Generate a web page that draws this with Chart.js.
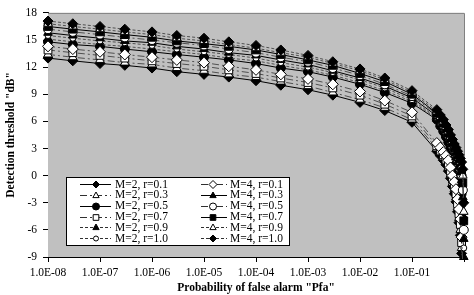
<!DOCTYPE html>
<html>
<head>
<meta charset="utf-8">
<script src="https://cdn.jsdelivr.net/npm/chart.js@4"></script>
<style>
html, body { margin: 0; background: #fff; }
#wrap { width: 474px; height: 295px; }
</style>
</head>
<body>
<div id="wrap"><canvas id="chart" width="474" height="295"></canvas></div>
<script>
// probability of false alarm (x)
const pfa = [1e-8, 3e-8, 1e-7, 3e-7, 1e-6, 3e-6, 1e-5, 3e-5, 1e-4, 3e-4, 1e-3, 3e-3, 1e-2, 3e-2, 1e-1,
    0.30, 0.35, 0.40, 0.45, 0.50, 0.55, 0.60, 0.65, 0.70, 0.75, 0.80, 0.85, 0.90, 0.95, 0.99];

// detection threshold in dB
const m2r01 = [13.0, 12.7, 12.4, 12.2, 11.9, 11.5, 11.2, 10.9, 10.5, 10.0, 9.5, 8.9, 8.1, 7.2, 5.9,
    2.7, 2.2, 1.7, 1.2, 0.5, -0.3, -1.2, -2.0, -2.9, -4.0, -5.2, -6.6, -8.6, -13, -18];
const m2r03 = [13.4, 13.1, 12.8, 12.5, 12.3, 11.9, 11.6, 11.2, 10.9, 10.4, 9.9, 9.2, 8.4, 7.5, 6.2,
    3.0, 2.5, 2.0, 1.5, 0.9, 0.1, -0.8, -1.5, -2.4, -3.5, -4.7, -6.0, -8.0, -12, -17];
const m2r05 = [14.8, 14.5, 14.3, 14.0, 13.7, 13.4, 13.1, 12.8, 12.4, 11.9, 11.5, 10.9, 10.1, 9.2, 8.0,
    6.2, 5.5, 4.9, 4.3, 3.7, 3.1, 2.5, 1.9, 1.3, 0.6, 0.0, -0.9, -2.0, -4.8, -10];
const m2r07 = [13.9, 13.6, 13.3, 13.0, 12.7, 12.4, 12.1, 11.7, 11.3, 10.8, 10.3, 9.7, 8.9, 7.9, 6.6,
    3.3, 2.8, 2.3, 1.8, 1.3, 0.5, -0.4, -1.1, -2.0, -3.1, -4.2, -5.4, -7.4, -11, -16];
const m2r09 = [15.1, 14.8, 14.5, 14.3, 14.0, 13.7, 13.4, 13.0, 12.7, 12.2, 11.7, 11.1, 10.3, 9.4, 8.2,
    6.3, 5.7, 5.1, 4.5, 3.9, 3.3, 2.7, 2.1, 1.5, 0.9, 0.3, -0.5, -1.5, -4.0, -9.0];
const m2r10 = [15.5, 15.2, 14.9, 14.7, 14.4, 14.0, 13.7, 13.4, 13.0, 12.5, 12.0, 11.4, 10.6, 9.7, 8.4,
    6.4, 5.8, 5.2, 4.6, 4.1, 3.5, 2.9, 2.3, 1.7, 1.2, 0.6, -0.1, -1.0, -3.2, -8.0];
const m4r01 = [14.3, 14.0, 13.7, 13.4, 13.1, 12.8, 12.5, 12.1, 11.7, 11.2, 10.7, 10.1, 9.3, 8.3, 7.0,
    3.6, 3.1, 2.6, 2.2, 1.7, 0.9, 0.0, -0.7, -1.5, -2.6, -3.7, -4.8, -6.8, -10, -15];
const m4r03 = [15.8, 15.5, 15.2, 14.9, 14.7, 14.3, 14.0, 13.6, 13.3, 12.8, 12.3, 11.6, 10.8, 9.9, 8.6,
    6.6, 6.0, 5.4, 4.8, 4.3, 3.7, 3.1, 2.6, 2.0, 1.5, 0.9, 0.3, -0.5, -2.4, -7.0];
const m4r05 = [16.2, 15.9, 15.6, 15.3, 15.0, 14.7, 14.4, 14.0, 13.6, 13.1, 12.6, 11.9, 11.1, 10.1, 8.8,
    6.8, 6.2, 5.6, 5.0, 4.5, 3.9, 3.3, 2.8, 2.3, 1.8, 1.3, 0.7, 0.0, -1.6, -6.0];
const m4r07 = [16.5, 16.2, 15.9, 15.6, 15.3, 14.9, 14.6, 14.3, 13.9, 13.4, 12.8, 12.2, 11.3, 10.4, 9.0,
    6.9, 6.3, 5.8, 5.2, 4.7, 4.1, 3.6, 3.1, 2.6, 2.1, 1.6, 1.1, 0.5, -0.8, -5.0];
const m4r09 = [16.8, 16.5, 16.2, 15.9, 15.6, 15.2, 14.9, 14.5, 14.1, 13.6, 13.1, 12.4, 11.6, 10.6, 9.2,
    7.1, 6.5, 6.0, 5.4, 4.9, 4.3, 3.8, 3.3, 2.8, 2.4, 2.0, 1.5, 1.0, 0.0, -4.0];
const m4r10 = [17.1, 16.8, 16.5, 16.2, 15.9, 15.5, 15.2, 14.8, 14.4, 13.9, 13.3, 12.6, 11.8, 10.8, 9.4,
    7.3, 6.7, 6.2, 5.6, 5.1, 4.5, 4.0, 3.5, 3.1, 2.7, 2.3, 1.9, 1.5, 0.7, -3.0];

const seriesLabels = ["M=2, r=0.1", "M=2, r=0.3", "M=2, r=0.5", "M=2, r=0.7", "M=2, r=0.9", "M=2, r=1.0",
    "M=4, r=0.1", "M=4, r=0.3", "M=4, r=0.5", "M=4, r=0.7", "M=4, r=0.9", "M=4, r=1.0"];
const seriesValues = [m2r01, m2r03, m2r05, m2r07, m2r09, m2r10, m4r01, m4r03, m4r05, m4r07, m4r09, m4r10];

const xTickValues = [1e-8, 1e-7, 1e-6, 1e-5, 1e-4, 1e-3, 1e-2, 1e-1, 1];
const yTickMin = -9, yTickMax = 18, yTickStep = 3;

const SOLID = [], DASHDOT = [7, 3, 2, 3], DASH = [3, 2];
const looks = [
    { shape: "rectRot", fill: "#000", dash: SOLID, r: 5, lr: 3.5 },
    { shape: "triangle", fill: "#fff", dash: DASHDOT, r: 5, lr: 3.5 },
    { shape: "circle", fill: "#000", dash: SOLID, r: 4.5, lr: 3.5 },
    { shape: "rect", fill: "#fff", dash: DASHDOT, r: 5.5, lr: 4 },
    { shape: "triangle", fill: "#000", dash: DASH, r: 5, lr: 3.5 },
    { shape: "circle", fill: "#fff", dash: DASH, r: 3, lr: 2.5 },
    { shape: "rectRot", fill: "#fff", dash: DASHDOT, r: 5.5, lr: 4 },
    { shape: "triangle", fill: "#000", dash: SOLID, r: 5, lr: 3.5 },
    { shape: "circle", fill: "#fff", dash: DASHDOT, r: 4.5, lr: 3.5 },
    { shape: "rect", fill: "#000", dash: SOLID, r: 5.5, lr: 4 },
    { shape: "triangle", fill: "#fff", dash: DASH, r: 5, lr: 3.5 },
    { shape: "rectRot", fill: "#000", dash: DASH, r: 5, lr: 3.5 },
];

const FONT = "'Liberation Serif', 'Times New Roman', serif";

function fmtExp(v) {
    const e = Math.round(Math.log10(v));
    const s = e < 0 ? "-" : "+";
    const a = Math.abs(e);
    return "1.0E" + s + (a < 10 ? "0" : "") + a;
}

function drawMarker(ctx, shape, r, x, y, fill) {
    ctx.save();
    ctx.fillStyle = fill;
    ctx.strokeStyle = "#000";
    ctx.lineWidth = 1;
    ctx.setLineDash([]);
    ctx.beginPath();
    if (shape === "circle") {
        ctx.arc(x, y, r, 0, Math.PI * 2);
    } else if (shape === "rect") {
        const s = r * Math.SQRT1_2;
        ctx.rect(x - s, y - s, s * 2, s * 2);
    } else if (shape === "rectRot") {
        ctx.moveTo(x, y - r); ctx.lineTo(x + r, y); ctx.lineTo(x, y + r); ctx.lineTo(x - r, y);
        ctx.closePath();
    } else {
        ctx.moveTo(x, y - r); ctx.lineTo(x + r * 0.9, y + r * 0.6); ctx.lineTo(x - r * 0.9, y + r * 0.6);
        ctx.closePath();
    }
    ctx.fill();
    ctx.stroke();
    ctx.restore();
}

const plotBack = {
    id: "plotBack",
    beforeDatasetsDraw(chart) {
        const { ctx, chartArea: a } = chart;
        ctx.save();
        ctx.fillStyle = "#c0c0c0";
        ctx.fillRect(a.left, a.top, a.right - a.left, a.bottom - a.top);
        ctx.strokeStyle = "#808080";
        ctx.lineWidth = 1;
        ctx.beginPath();
        ctx.moveTo(a.left, a.top + 0.5);
        ctx.lineTo(a.right + 0.5, a.top + 0.5);
        ctx.lineTo(a.right + 0.5, a.bottom);
        ctx.stroke();
        ctx.restore();
    },
};

const boxLegend = {
    id: "boxLegend",
    afterDraw(chart) {
        const ctx = chart.ctx;
        ctx.save();
        ctx.fillStyle = "#fff";
        ctx.fillRect(66, 177, 223, 68);
        ctx.strokeStyle = "#000";
        ctx.lineWidth = 1;
        ctx.strokeRect(66.5, 177.5, 223, 68);
        const cols = [{ x0: 80, x1: 111, mx: 96, tx: 115 }, { x0: 201, x1: 227, mx: 213, tx: 230 }];
        ctx.font = "11.5px " + FONT;
        ctx.textBaseline = "middle";
        seriesLabels.forEach((label, i) => {
            const c = cols[Math.floor(i / 6)];
            const y = 184 + (i % 6) * 10.85;
            const lk = looks[i];
            ctx.strokeStyle = lk.dash.length ? "#303030" : "#000";
            ctx.setLineDash(lk.dash);
            ctx.beginPath();
            ctx.moveTo(c.x0, Math.round(y) + 0.5);
            ctx.lineTo(c.x1, Math.round(y) + 0.5);
            ctx.stroke();
            ctx.setLineDash([]);
            drawMarker(ctx, lk.shape, lk.lr, c.mx, Math.round(y) + 0.5, lk.fill);
            ctx.fillStyle = "#000";
            ctx.fillText(label, c.tx, y + 0.5);
        });
        ctx.restore();
    },
};

const datasets = seriesValues.map((vals, i) => ({
    label: seriesLabels[i],
    data: vals.map((v, k) => ({ x: pfa[k], y: v })),
    borderColor: looks[i].dash.length ? "#505050" : "#000",
    borderWidth: 1,
    borderDash: looks[i].dash,
    pointStyle: looks[i].shape,
    pointRadius: looks[i].r,
    pointBackgroundColor: looks[i].fill,
    pointBorderColor: "#000",
    pointBorderWidth: 1,
    tension: 0,
    order: seriesValues.length - 1 - i,
    clip: { left: 6, top: 6, right: 6, bottom: 3 },
}));

new Chart(document.getElementById("chart"), {
    type: "line",
    data: { datasets: datasets },
    options: {
        responsive: false,
        animation: false,
        events: [],
        layout: { padding: { top: 8, right: 10, left: 0, bottom: 0 } },
        plugins: { legend: { display: false }, tooltip: { enabled: false } },
        scales: {
            x: {
                type: "logarithmic",
                min: 1e-8,
                max: 1,
                afterBuildTicks(scale) {
                    scale.ticks = xTickValues.map((v) => ({ value: v }));
                },
                afterFit(scale) { scale.height = 38; },
                ticks: {
                    autoSkip: false,
                    maxRotation: 0,
                    padding: 4,
                    color: "#000",
                    font: { family: FONT, size: 11.5 },
                    callback: (v) => (v >= 1 ? "" : fmtExp(v)),
                },
                grid: { drawOnChartArea: false, tickLength: 5, color: "#000" },
                border: { color: "#000", width: 1 },
                title: {
                    display: true,
                    text: 'Probability of false alarm "Pfa"',
                    color: "#000",
                    font: { family: FONT, size: 11.5, weight: "bold" },
                    padding: { top: 0, bottom: 0 },
                },
            },
            y: {
                min: yTickMin,
                max: yTickMax,
                afterFit(scale) { scale.width = 48; },
                ticks: {
                    stepSize: yTickStep,
                    padding: 6,
                    color: "#000",
                    font: { family: FONT, size: 11.5 },
                },
                grid: { drawOnChartArea: false, tickLength: 5, color: "#000" },
                border: { color: "#000", width: 1 },
                title: {
                    display: true,
                    text: 'Detection threshold "dB"',
                    color: "#000",
                    font: { family: FONT, size: 11.5, weight: "bold" },
                    padding: { top: 4, bottom: 0 },
                },
            },
        },
    },
    plugins: [plotBack, boxLegend],
});
</script>
</body>
</html>
